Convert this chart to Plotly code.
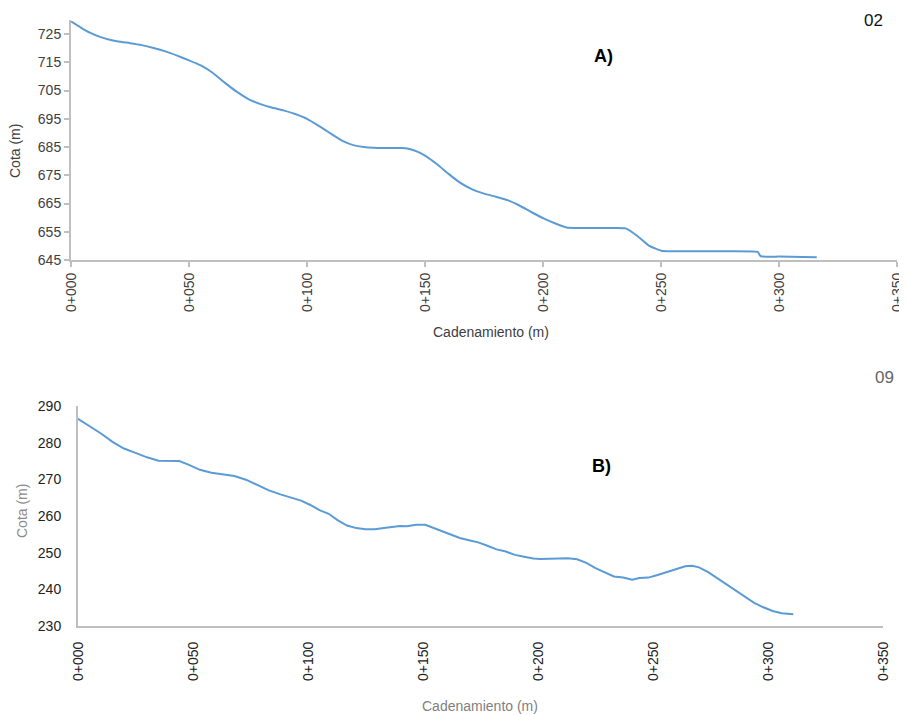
import plotly.graph_objects as go

# ---- Data: Profile A (02) ----
a_dist = [0, 4, 8, 12, 16, 20, 25, 30, 35, 40, 45, 50, 55, 60, 65, 70, 75, 80, 85, 90, 95,
          100, 105, 110, 115, 120, 125, 130, 135, 140, 143, 147, 150, 155, 160, 165, 170,
          175, 180, 185, 190, 195, 200, 205, 210, 215, 220, 225, 230, 235, 240, 245, 250,
          255, 260, 270, 280, 291, 292, 293, 300, 310, 316]
a_elev = [729.5, 727.4, 725.5, 724.1, 723.1, 722.4, 721.8, 721.1, 720.1, 718.9, 717.4, 715.7,
          713.9, 711.3, 707.9, 704.7, 702.1, 700.3, 699.0, 698.0, 696.7, 695.0, 692.5, 689.8,
          687.2, 685.6, 684.9, 684.7, 684.7, 684.7, 684.4, 683.3, 682.0, 679.0, 675.5, 672.3,
          670.0, 668.5, 667.4, 666.2, 664.3, 662.0, 659.8, 658.0, 656.5, 656.3, 656.3, 656.3,
          656.3, 656.2, 653.5, 650.0, 648.3, 648.1, 648.1, 648.1, 648.1, 647.9, 646.5, 646.2,
          646.2, 646.1, 646.0]

# ---- Data: Profile B (09) ----
b_dist = [0, 5, 10, 15, 20, 25, 30, 35, 40, 44, 48, 53, 58, 63, 68, 73, 78, 83, 88, 93, 97,
          101, 105, 109, 113, 117, 121, 125, 129, 133, 137, 140, 143, 147, 151, 154, 158, 162,
          166, 170, 174, 178, 182, 186, 190, 194, 198, 201, 205, 209, 213, 217, 221, 225, 229,
          233, 237, 241, 244, 248, 252, 256, 260, 264, 267, 270, 274, 278, 282, 286, 290, 294,
          298, 302, 306, 311]
b_elev = [286.5, 284.6, 282.5, 280.2, 278.4, 277.2, 276.0, 275.1, 275.0, 275.0, 274.0, 272.6,
          271.8, 271.4, 270.9, 269.9, 268.4, 267.0, 265.9, 265.0, 264.2, 263.0, 261.6, 260.6,
          258.8, 257.4, 256.7, 256.4, 256.4, 256.7, 257.1, 257.3, 257.2, 257.6, 257.6, 256.9,
          256.0, 255.0, 254.0, 253.4, 252.8, 251.9, 250.9, 250.3, 249.4, 248.9, 248.4, 248.3,
          248.4, 248.5, 248.5, 248.2, 247.2, 245.8, 244.6, 243.5, 243.2, 242.6, 243.1, 243.2,
          243.9, 244.7, 245.6, 246.3, 246.4, 246.0, 244.7, 243.0, 241.3, 239.6, 237.8, 236.3,
          235.1, 234.1, 233.5, 233.2]

# ---- Tick labels ----
x_tickvals = [0, 50, 100, 150, 200, 250, 300, 350]
x_ticktext = ["0+000", "0+050", "0+100", "0+150", "0+200", "0+250", "0+300", "0+350"]
a_yticks = [645, 655, 665, 675, 685, 695, 705, 715, 725]
b_yticks = [230, 240, 250, 260, 270, 280, 290]

LINE = "#5B9BD5"
AX = "#BFBFBF"
FONT = "Liberation Sans, Arial, sans-serif"

fig = go.Figure()
fig.add_trace(go.Scatter(x=a_dist, y=a_elev, mode="lines", xaxis="x", yaxis="y",
                         line=dict(color=LINE, width=2, shape="spline", smoothing=0.3),
                         hoverinfo="skip"))
fig.add_trace(go.Scatter(x=b_dist, y=b_elev, mode="lines", xaxis="x2", yaxis="y2",
                         line=dict(color=LINE, width=2),
                         hoverinfo="skip"))

W, H = 907, 715
OFF = 8  # page body margin: figure origin sits at (8, 8) in the window


def fx(px):
    return (px - OFF) / W


def fy(py):
    return 1 - (py - OFF) / H


fig.update_layout(
    width=W, height=H,
    margin=dict(l=0, r=0, t=0, b=0, autoexpand=False),
    paper_bgcolor="white", plot_bgcolor="white",
    showlegend=False,
    font=dict(family=FONT, size=14, color="#404040"),
    xaxis=dict(domain=[fx(71), fx(897)], range=[0, 350], anchor="y", automargin=False,
               tickvals=x_tickvals, ticktext=x_ticktext, tickangle=-90,
               showline=True, linecolor=AX, linewidth=2, showgrid=False, zeroline=False,
               ticks="outside", ticklen=5, tickcolor=AX, tickwidth=2,
               tickfont=dict(size=14, color="#404040")),
    yaxis=dict(domain=[fy(260), fy(20)], range=[645, 730], anchor="x", automargin=False,
               tickvals=a_yticks,
               showline=True, linecolor=AX, linewidth=2, showgrid=False, zeroline=False,
               ticks="outside", ticklen=5, tickcolor=AX, tickwidth=2,
               tickfont=dict(size=14, color="#404040")),
    xaxis2=dict(domain=[fx(78), fx(883)], range=[0, 350], anchor="y2", automargin=False,
                tickvals=x_tickvals, ticktext=x_ticktext, tickangle=-90,
                showline=True, linecolor=AX, linewidth=2, showgrid=False, zeroline=False,
                ticks="", ticklabelstandoff=8,
                tickfont=dict(size=14, color="#222222")),
    yaxis2=dict(domain=[fy(626), fy(406)], range=[230, 290], anchor="x2", automargin=False,
                tickvals=b_yticks,
                showline=True, linecolor=AX, linewidth=2, showgrid=False, zeroline=False,
                ticks="", ticklabelstandoff=12,
                tickfont=dict(size=14, color="#222222")),
)

annos = [
    dict(text="Cota (m)", x=fx(15), y=fy(151), textangle=-90, font=dict(size=14, color="#404040")),
    dict(text="Cadenamiento (m)", x=fx(491), y=fy(332), font=dict(size=14, color="#404040")),
    dict(text="<b>A)</b>", x=fx(603), y=fy(56), font=dict(size=18, color="#000000")),
    dict(text="02", x=fx(873), y=fy(20), font=dict(size=17, color="#111111")),
    dict(text="Cota (m)", x=fx(22), y=fy(511), textangle=-90, font=dict(size=14, color="#8C8C8C")),
    dict(text="Cadenamiento (m)", x=fx(480), y=fy(706), font=dict(size=14, color="#7F7F7F")),
    dict(text="<b>B)</b>", x=fx(601), y=fy(466), font=dict(size=18, color="#000000")),
    dict(text="09", x=fx(884), y=fy(377), font=dict(size=17, color="#666666")),
]
for a in annos:
    a.update(xref="paper", yref="paper", showarrow=False, xanchor="center", yanchor="middle")
    fig.add_annotation(**a)

fig.write_html("out.html", config={"displayModeBar": False})
